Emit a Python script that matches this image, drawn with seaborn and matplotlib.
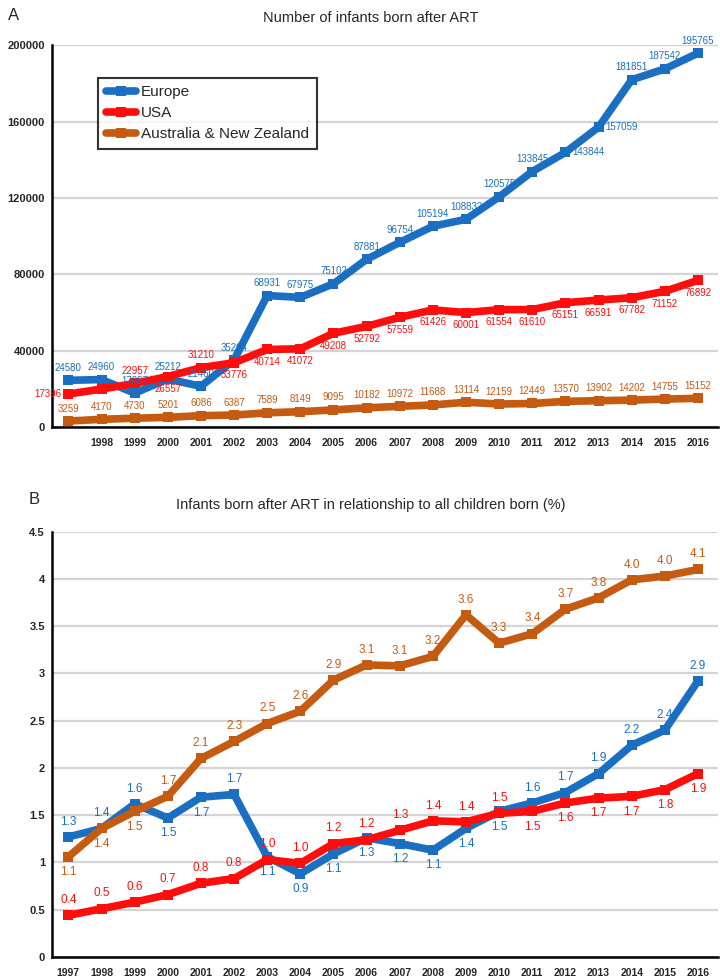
import matplotlib

matplotlib.use("Agg")
import matplotlib.pyplot as plt
import numpy as np
import pandas as pd
import seaborn as sns

years = list(range(1997, 2017))
regions = ["Europe", "USA", "Australia & New Zealand"]

# panel A: number of infants born after ART
europe_n = [24580, 24960, 17887, 25212, 21460, 35204, 68931, 67975, 75102, 87881,
            96754, 105194, 108832, 120575, 133845, 143844, 157059, 181851, 187542, 195765]
usa_n = [17396, 20000, 22957, 26557, 31210, 33776, 40714, 41072, 49208, 52792,
         57559, 61426, 60001, 61554, 61610, 65151, 66591, 67782, 71152, 76892]
anz_n = [3259, 4170, 4730, 5201, 6086, 6387, 7589, 8149, 9095, 10182,
         10972, 11688, 13114, 12159, 12449, 13570, 13902, 14202, 14755, 15152]

# panel B: share of all children born (%)
europe_pct = [1.27, 1.36, 1.62, 1.47, 1.69, 1.72, 1.06, 0.88, 1.09, 1.26,
              1.20, 1.13, 1.36, 1.54, 1.63, 1.74, 1.94, 2.24, 2.40, 2.92]
usa_pct = [0.44, 0.51, 0.58, 0.66, 0.78, 0.83, 1.03, 0.99, 1.20, 1.24,
           1.34, 1.44, 1.43, 1.52, 1.54, 1.63, 1.68, 1.70, 1.77, 1.94]
anz_pct = [1.06, 1.36, 1.54, 1.70, 2.10, 2.28, 2.47, 2.60, 2.93, 3.09,
           3.08, 3.18, 3.62, 3.32, 3.42, 3.68, 3.80, 3.99, 4.03, 4.10]

COLORS = {"Europe": "#1b6fc3", "USA": "#ff0d0d", "Australia & New Zealand": "#c55a11"}

# label placement (style only): "a" above, "b" below, "l" left, "r" right, "" none
place_a = {
    "Europe": ["a"] * 11 + ["a", "a", "a", "a", "r", "r", "a", "a", "a"],
    "USA": ["l", "", "a", "b", "a", "b"] + ["b"] * 14,
    "Australia & New Zealand": ["a"] * 20,
}
place_b = {
    "Europe": ["a", "a", "a", "b", "b", "a", "b", "b", "b", "b",
               "b", "b", "b", "b", "a", "a", "a", "a", "a", "a"],
    "USA": ["a"] * 14 + ["b"] * 6,
    "Australia & New Zealand": ["b", "b", "b"] + ["a"] * 17,
}

sns.set_theme(style="white")
plt.rcParams["font.family"] = ["Liberation Sans", "DejaVu Sans"]


def long_frame(values):
    rows = []
    for region, vals in zip(regions, values):
        for y, v in zip(years, vals):
            rows.append({"year": y, "value": v, "region": region})
    return pd.DataFrame(rows)


def style_axes(ax, ymax, ystep, fmt, xlabels):
    ax.set_xlim(1996.5, 2016.6)
    ax.set_ylim(0, ymax)
    ticks = np.arange(0, ymax + ystep / 2, ystep)
    ax.set_yticks(ticks)
    ax.set_yticklabels([fmt(t) for t in ticks], fontsize=8, fontweight="bold")
    ax.set_xticks(years)
    ax.set_xticklabels(xlabels, fontsize=7.5, fontweight="bold")
    ax.set_xticks(np.arange(1996.5, 2017, 1), minor=True)
    ax.tick_params(axis="x", which="major", length=0, pad=8)
    ax.tick_params(axis="x", which="minor", length=4, width=1.2, color="black", direction="out")
    ax.tick_params(axis="y", length=3, width=1.2, color="black", direction="out", pad=2)
    ax.grid(axis="y", color="#d4d4d4", linewidth=1.6)
    ax.set_axisbelow(True)
    for side in ("top", "right"):
        ax.spines[side].set_visible(False)
    for side in ("left", "bottom"):
        ax.spines[side].set_color("black")
        ax.spines[side].set_linewidth(1.8)
    ax.set_xlabel("")
    ax.set_ylabel("")


def add_labels(ax, values, places, fmt, size, gap):
    for region, vals in zip(regions, values):
        for y, v, p in zip(years, vals, places[region]):
            if not p:
                continue
            off = {"a": (0, gap), "b": (0, -gap), "l": (-5, 0), "r": (5, 0)}[p]
            ha = {"l": "right", "r": "left"}.get(p, "center")
            ax.annotate(fmt(v), (y, v), xytext=off, textcoords="offset points",
                        ha=ha, va="center", fontsize=size, color=COLORS[region])


fig = plt.figure(figsize=(7.2, 9.8), dpi=100)
ax_a = fig.add_axes([0.072, 0.564, 0.925, 0.39])
ax_b = fig.add_axes([0.072, 0.0235, 0.925, 0.434])

df_a = long_frame([europe_n, usa_n, anz_n])
sns.lineplot(data=df_a, x="year", y="value", hue="region", hue_order=regions,
             palette=COLORS, linewidth=5.5, marker="s", markersize=7,
             markeredgewidth=0, ax=ax_a)
style_axes(ax_a, 200000, 40000, lambda t: f"{int(t)}", [""] + [str(y) for y in years[1:]])
add_labels(ax_a, [europe_n, usa_n, anz_n], place_a, lambda v: f"{v}", 7, 9)

handles, labels = ax_a.get_legend_handles_labels()
leg = ax_a.legend(handles, labels, loc="upper left", bbox_to_anchor=(0.058, 0.935),
                  frameon=True, fancybox=False, fontsize=11, handlelength=2.0,
                  handletextpad=0.3, borderpad=0.5, labelspacing=0.45)
leg.get_frame().set_edgecolor("black")
leg.get_frame().set_linewidth(1.5)

df_b = long_frame([europe_pct, usa_pct, anz_pct])
sns.lineplot(data=df_b, x="year", y="value", hue="region", hue_order=regions,
             palette=COLORS, linewidth=5.5, marker="s", markersize=7,
             markeredgewidth=0, ax=ax_b, legend=False)
style_axes(ax_b, 4.5, 0.5, lambda t: f"{t:g}", [str(y) for y in years])
add_labels(ax_b, [europe_pct, usa_pct, anz_pct], place_b, lambda v: f"{v:.1f}", 8.5, 11)

fig.text(0.011, 0.992, "A", fontsize=12, va="top")
fig.text(0.515, 0.982, "Number of infants born after ART", fontsize=10.5, ha="center", va="center")
fig.text(0.04, 0.49, "B", fontsize=12, va="center")
fig.text(0.515, 0.485, "Infants born after ART in relationship to all children born (%)",
         fontsize=10.5, ha="center", va="center")

fig.savefig("out.png", dpi=100)
